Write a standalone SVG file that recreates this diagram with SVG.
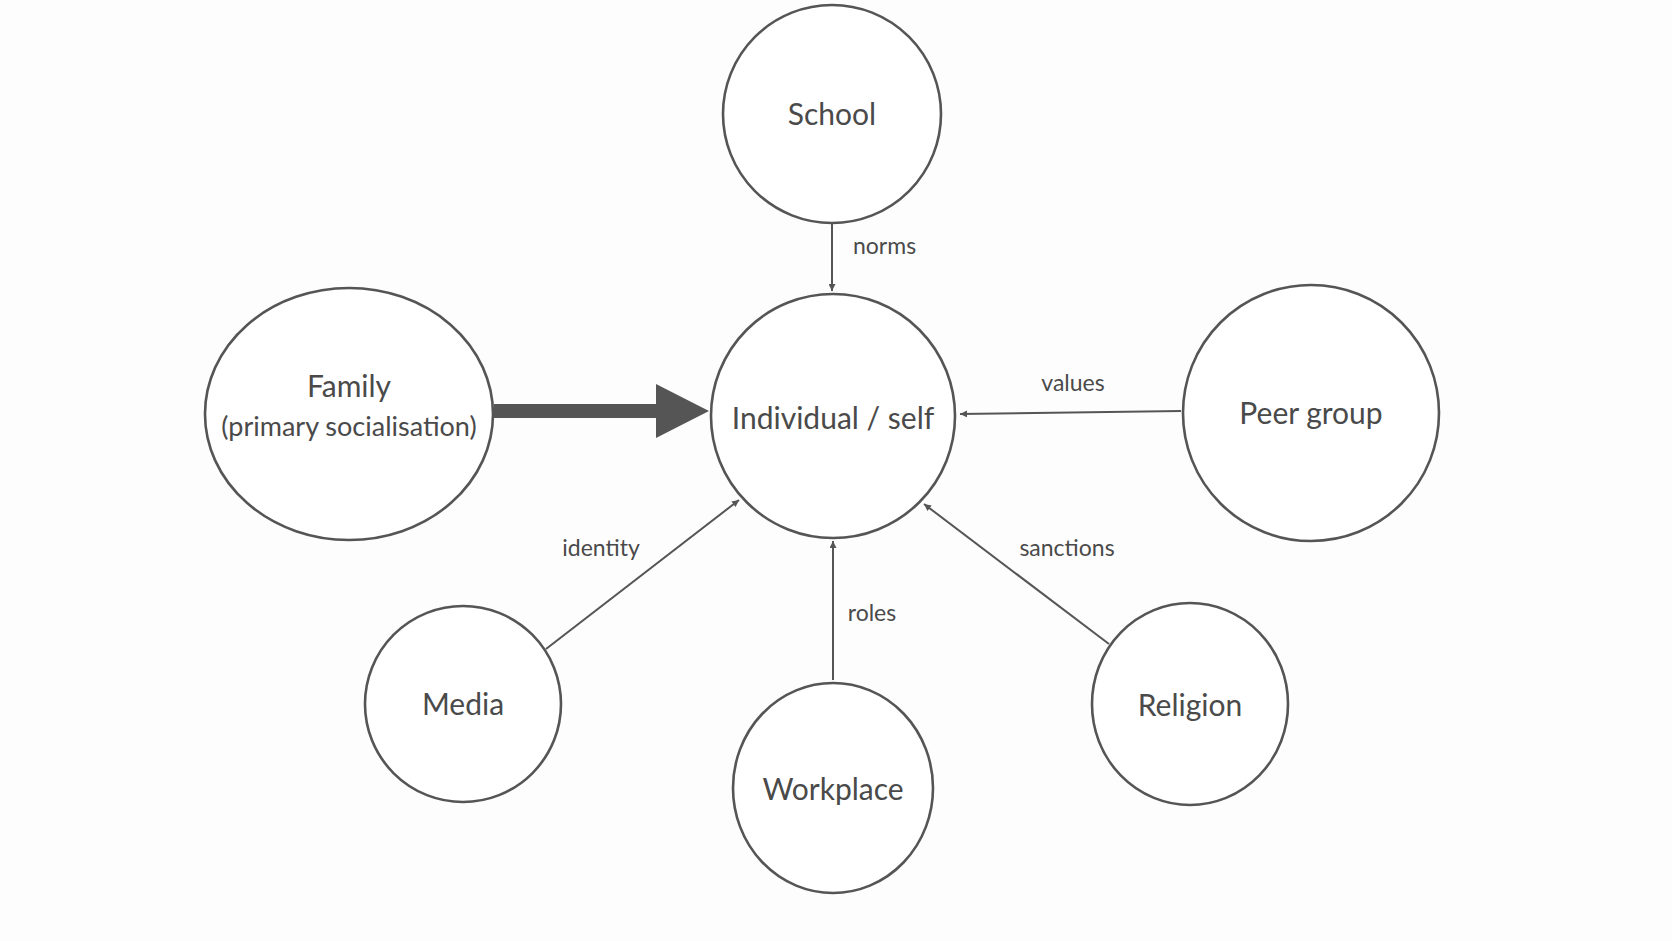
<svg xmlns="http://www.w3.org/2000/svg" width="1672" height="941" viewBox="0 0 1672 941">
<style>
.n{fill:#fff;stroke:#555;stroke-width:2.6}
.t{font-family:Lato,"Open Sans",sans-serif;font-size:30px;fill:#4a4a4a;text-anchor:middle}
.l{font-family:Lato,"Open Sans",sans-serif;font-size:23px;fill:#4a4a4a;text-anchor:middle}
.c{stroke:#555;stroke-width:2;fill:none;marker-end:url(#a)}
</style>
<defs><marker id="a" viewBox="0 0 10 10" refX="10" refY="5" markerWidth="7" markerHeight="7" markerUnits="userSpaceOnUse" orient="auto"><path d="M0,0L10,5L0,10z" fill="#555"/></marker>
<marker id="a2" viewBox="0 0 10 10" refX="10" refY="5" markerWidth="14" markerHeight="14" markerUnits="userSpaceOnUse" orient="auto"><path d="M0,0L10,5L0,10z" fill="#555"/></marker></defs>
<rect width="1672" height="941" fill="#fdfdfd"/>
<g id="connectors">
<line class="c" x1="832" y1="222" x2="832" y2="291" style="marker-end:url(#a)"/>
<path d="M494,404H656V384L709,411L656,438V418H494Z" fill="#555"/>
<line class="c" x1="1181" y1="411" x2="960" y2="414"/>
<line class="c" x1="546" y1="649" x2="739" y2="500"/>
<line class="c" x1="833" y1="680" x2="833" y2="541"/>
<line class="c" x1="1109" y1="644" x2="924" y2="504"/>
<text class="l" x="853" y="254" text-anchor="start" style="text-anchor:start">norms</text>
<text class="l" x="1073" y="391">values</text>
<text class="l" x="601" y="556">identity</text>
<text class="l" x="872" y="621">roles</text>
<text class="l" x="1067" y="556">sanctions</text>
</g>
<g id="school"><circle class="n" cx="832" cy="114" r="109"/><text class="t" x="832" y="125">School</text></g>
<g id="individual"><circle class="n" cx="833" cy="416" r="122"/><text class="t" x="833" y="429">Individual / self</text></g>
<g id="family"><ellipse class="n" cx="349" cy="414" rx="144" ry="126"/><text class="t" x="349" y="397">Family</text><text class="t" x="349" y="436" style="font-size:27px">(primary socialisation)</text></g>
<g id="peer"><circle class="n" cx="1311" cy="413" r="128"/><text class="t" x="1311" y="424">Peer group</text></g>
<g id="media"><circle class="n" cx="463" cy="704" r="98"/><text class="t" x="463" y="715">Media</text></g>
<g id="workplace"><ellipse class="n" cx="833" cy="788" rx="100" ry="105"/><text class="t" x="833" y="800">Workplace</text></g>
<g id="religion"><ellipse class="n" cx="1190" cy="704" rx="98" ry="101"/><text class="t" x="1190" y="716">Religion</text></g>
</svg>
